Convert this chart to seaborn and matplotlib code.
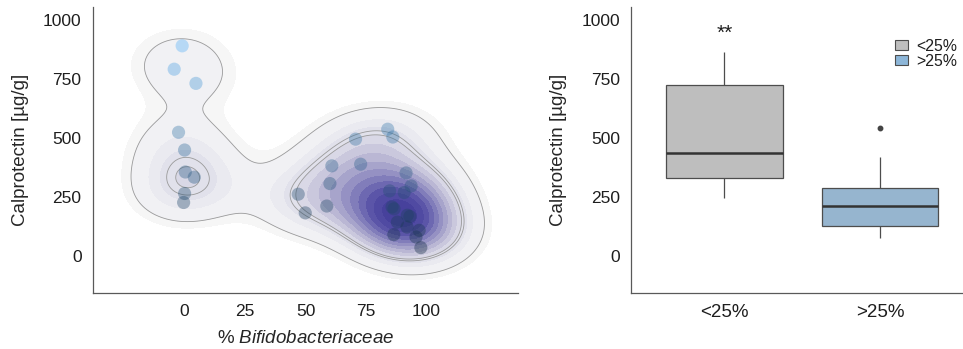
import numpy as np
import pandas as pd
import matplotlib
matplotlib.use("Agg")
import matplotlib.pyplot as plt
import seaborn as sns
from matplotlib.colors import LinearSegmentedColormap
from matplotlib.patches import Patch

# left panel: % Bifidobacteriaceae vs faecal calprotectin per sample
bifido_pct = [-1.0, -4.3, 4.7, -2.5, 0.0, 0.3, 4.0, 0.0, -0.4,
              70.7, 84.0, 86.1, 60.9, 72.8, 60.1, 47.0, 49.9, 58.8,
              91.6, 93.7, 84.8, 90.8, 85.8, 86.6, 92.1, 93.2, 88.0,
              92.0, 97.0, 86.5, 95.7, 97.7]
calpro = [891, 792, 732, 525, 450, 357, 335, 266, 228,
          496, 538, 505, 383, 390, 308, 263, 184, 213,
          353, 298, 277, 270, 209, 201, 174, 169, 145,
          124, 110, 92, 82, 37]

# right panel: calprotectin by Bifidobacteriaceae group
group_names = ["<25%", ">25%"]
calpro_low = [245, 290, 333, 400, 439, 600, 724, 800, 865]
calpro_high = [76, 100, 120, 130, 160, 190, 215, 240, 270, 291, 330, 422, 542]
group_colors = ["#BEBEBE", "#8DB6D8"]

x_ticks = [0, 25, 50, 75, 100]
y_ticks = [0, 250, 500, 750, 1000]

sns.set_style("white")
plt.rcParams["font.family"] = ["Liberation Sans", "DejaVu Sans"]
plt.rcParams["mathtext.fontset"] = "custom"
plt.rcParams["mathtext.it"] = "Liberation Sans:italic"
plt.rcParams["mathtext.rm"] = "Liberation Sans"
plt.rcParams["axes.edgecolor"] = "#595959"
plt.rcParams["axes.linewidth"] = 0.9
plt.rcParams["text.color"] = "#1e1e1e"

fig = plt.figure(figsize=(9.63, 3.49), dpi=100)
W, H = 963, 349
ax1 = fig.add_axes([92.7 / W, 1 - 292.5 / H, (518.3 - 92.7) / W, (292.5 - 7.3) / H])
ax2 = fig.add_axes([631 / W, 1 - 292.5 / H, (963 - 631) / W, (292.5 - 7.3) / H])

# --- 2d density (axis-aligned normal kernel, like MASS::kde2d) ---
x = np.asarray(bifido_pct, float)
y = np.asarray(calpro, float)


def nrd_sd(v):
    q1, q3 = np.percentile(v, [25, 75])
    return 1.06 * min(v.std(ddof=1), (q3 - q1) / 1.34) * len(v) ** -0.2


hx, hy = nrd_sd(x) * 0.8, nrd_sd(y) * 1.15
gx = np.linspace(-30, 130, 160)
gy = np.linspace(-100, 1000, 160)
kx = np.exp(-0.5 * ((gx[:, None] - x[None, :]) / hx) ** 2)
ky = np.exp(-0.5 * ((gy[:, None] - y[None, :]) / hy) ** 2)
dens = ky @ kx.T
dmax = dens.max()
left_peak = dens[:, gx < 25].max()

step = dmax / 16
fill_levels = np.append([1.7 * step, 2.4 * step], step * np.arange(4, 17))
fill_levels[-1] = dmax * 1.01
fill_cmap = LinearSegmentedColormap.from_list(
    "dens", ["#f7f7f7", "#ededf2", "#d9d8e6", "#b3b0d0", "#8480bc", "#5650a6", "#423d99"])
ax1.contourf(gx, gy, dens, levels=fill_levels, cmap=fill_cmap, zorder=1)
ax1.contour(gx, gy, dens, levels=[2.4 * step, left_peak * 0.88, left_peak * 0.96],
            colors="#9a9a9a", linewidths=0.6, zorder=2)

pts = pd.DataFrame({"bifido": bifido_pct, "calpro": calpro})
point_cmap = LinearSegmentedColormap.from_list("pts", ["#132B43", "#56B1F7"])
sns.scatterplot(data=pts, x="bifido", y="calpro", hue="calpro", palette=point_cmap,
                s=90, alpha=0.38, linewidth=0, legend=False, ax=ax1, zorder=3)

ax1.set_xlim(-38, 138)
ax1.set_ylim(-153, 1054)
ax1.set_xticks(x_ticks)
ax1.set_yticks(y_ticks)
ax1.set_xlabel(r"% $\mathit{Bifidobacteriaceae}$", fontsize=13.5, labelpad=8)
ax1.set_ylabel("Calprotectin [µg/g]", fontsize=13.5, labelpad=10)

# --- boxplot ---
box_df = pd.DataFrame({
    "group": [group_names[0]] * len(calpro_low) + [group_names[1]] * len(calpro_high),
    "calpro": calpro_low + calpro_high,
})
sns.boxplot(data=box_df, x="group", y="calpro", hue="group", order=group_names,
            hue_order=group_names, palette=group_colors, width=0.75,
            linecolor="#4d4d4d", linewidth=0.9, legend=False, ax=ax2,
            medianprops=dict(color="#333333", linewidth=1.8),
            capprops=dict(visible=False),
            flierprops=dict(marker="o", markerfacecolor="#444444",
                            markeredgecolor="#444444", markersize=3.2))
ax2.text(0, 945, "**", ha="center", va="center", fontsize=15)
ax2.set_xlim(-0.6, 1.533)
ax2.set_ylim(-153, 1054)
ax2.set_yticks(y_ticks)
ax2.set_xlabel("")
ax2.set_ylabel("Calprotectin [µg/g]", fontsize=13.5, labelpad=10)

handles = [Patch(facecolor=c, edgecolor="#4d4d4d", linewidth=0.8) for c in group_colors]
ax2.legend(handles, group_names, loc="upper left", bbox_to_anchor=(895 / W, 1 - 38.8 / H),
           bbox_transform=fig.transFigure, frameon=False, borderpad=0, borderaxespad=0,
           handlelength=0.85, handleheight=0.55, handletextpad=0.5, labelspacing=0.0,
           fontsize=11.4)

for ax, xsize in ((ax1, 12.5), (ax2, 13.5)):
    sns.despine(ax=ax)
    ax.tick_params(axis="both", length=3, width=0.9, color="#595959", pad=5,
                   labelcolor="#1e1e1e")
    ax.tick_params(axis="y", labelsize=12.5)
    ax.tick_params(axis="x", labelsize=xsize)

fig.savefig("out.png", dpi=100)
